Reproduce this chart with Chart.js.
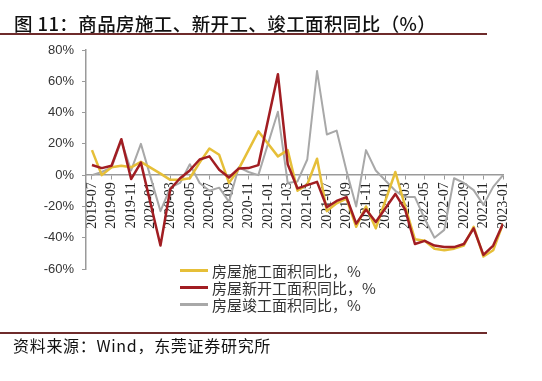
<!DOCTYPE html>
<html>
<head>
<meta charset="utf-8">
<script src="https://cdn.jsdelivr.net/npm/chart.js@4.4.1/dist/chart.umd.min.js"></script>
<style>
  body { margin: 0; background: #fff; width: 542px; height: 381px; overflow: hidden; position: relative;
         font-family: 'Noto Sans CJK SC', sans-serif; }
  #cchart { position: absolute; left: 0; top: 0; }
  .title { position: absolute; left: 14px; top: 13px; font-size: 18.5px; line-height: 20px; color: #111; font-weight: 500; letter-spacing: 0.4px; white-space: nowrap; }
  .rule { position: absolute; left: 0; width: 487px; height: 1.5px; background: #6e2b2b; }
  .source { position: absolute; left: 13px; top: 336px; font-size: 16px; line-height: 18px; color: #111; letter-spacing: 0.7px; white-space: nowrap; }
  #legend { position: absolute; left: 180px; top: 262px; font-size: 15px; color: #333; }
  #legend div { height: 17px; line-height: 17px; display: flex; align-items: center; white-space: nowrap; }
  #legend span.sw { display: inline-block; width: 28px; height: 2.5px; margin-right: 4px; }
</style>
</head>
<body>
<canvas id="cchart" width="542" height="381"></canvas>
<div class="title">图 11：商品房施工、新开工、竣工面积同比（%）</div>
<div class="rule" style="top:33px"></div>
<div id="legend"></div>
<div class="rule" style="top:332px"></div>
<div class="source">资料来源：Wind，东莞证券研究所</div>
<script>
// monthly, 2019-07 .. 2023-01 (January is reported together with February -> null)
const months = [
  '2019-07', '2019-08', '2019-09', '2019-10', '2019-11', '2019-12',
  '2020-01', '2020-02', '2020-03', '2020-04', '2020-05', '2020-06',
  '2020-07', '2020-08', '2020-09', '2020-10', '2020-11', '2020-12',
  '2021-01', '2021-02', '2021-03', '2021-04', '2021-05', '2021-06',
  '2021-07', '2021-08', '2021-09', '2021-10', '2021-11', '2021-12',
  '2022-01', '2022-02', '2022-03', '2022-04', '2022-05', '2022-06',
  '2022-07', '2022-08', '2022-09', '2022-10', '2022-11', '2022-12',
  '2023-01',
];
const underConstruction = [
  16, 0, 5, 6, 5, 8.5,
  null, 1, -3, -3, -2, 8,
  17, 13, -5, 4, 16, 28,
  null, 12, 16, -10, -6, 10.5,
  -23, -18, -15, -33, -20, -34,
  null, 2, -20, -41, -42, -47,
  -48, -47, -45, -33, -52, -48,
  -31,
];
const newStarts = [
  6.5, 4.5, 6, 23, -2.5, 8,
  null, -45, -9, -2, 3, 10,
  12, 3.5, -1.5, 4.3, 4.5, 6.4,
  null, 64.5, 7, -8.5, -6.4, -4.3,
  -20.5, -16.5, -14, -31, -22, -30,
  null, -12, -22, -44, -42, -45,
  -46, -46, -44, -34, -51, -45,
  -31,
];
const completed = [
  0, 2, 5, 22, 3, 20,
  null, -23, -8, -5, 7, -5,
  -10, -8, -17, 5, 2, 0,
  null, 40.5, -5, -4, 10, 66.5,
  26, 28.5, 3, -20, 16, 3,
  null, -10, -14, -14, -28, -40,
  -35, -2, -5, -9.6, -19, -7.5,
  0,
];
const seriesNames = ['房屋施工面积同比，%', '房屋新开工面积同比，%', '房屋竣工面积同比，%'];
const seriesColors = ['#e6bf38', '#a11d22', '#a8a8a8'];
const yTicks = [-60, -40, -20, 0, 20, 40, 60, 80];

const toPoints = (arr) => arr.map((v, i) => ({ x: i, y: v }));

// legend
const legend = document.getElementById('legend');
seriesNames.forEach((name, i) => {
  const row = document.createElement('div');
  const sw = document.createElement('span');
  sw.className = 'sw';
  sw.style.background = seriesColors[i];
  row.appendChild(sw);
  row.appendChild(document.createTextNode(name));
  legend.appendChild(row);
});

let chart = null;
let drawChart = () => {
  const ctx = document.getElementById('cchart');
  if (chart) chart.destroy();

  chart = new Chart(ctx, {
    type: 'line',
    data: {
      datasets: [
        { label: seriesNames[0], data: toPoints(underConstruction), borderColor: seriesColors[0], borderWidth: 2.5, order: 1 },
        { label: seriesNames[1], data: toPoints(newStarts), borderColor: seriesColors[1], borderWidth: 2.5, order: 0 },
        { label: seriesNames[2], data: toPoints(completed), borderColor: seriesColors[2], borderWidth: 2, order: 2 },
      ],
    },
    options: {
      responsive: false,
      animation: false,
      spanGaps: true,
      elements: {
        point: { radius: 0 },
        line: { tension: 0, fill: false, borderJoinStyle: 'round' },
      },
      layout: { padding: { left: 0, top: 50, right: 39, bottom: 112 } },
      plugins: { legend: { display: false }, tooltip: { enabled: false } },
      scales: {
        x: {
          type: 'linear',
          position: { y: 0 },
          min: -0.61,
          max: months.length - 1,
          afterBuildTicks: (scale) => {
            scale.ticks = months.map((m, i) => ({ value: i })).filter((t) => t.value % 2 === 0);
          },
          ticks: {
            autoSkip: false,
            minRotation: 90,
            maxRotation: 90,
            padding: 3,
            color: '#222',
            font: { family: "'Liberation Serif', 'Times New Roman', serif", size: 14 },
            callback: (v) => months[v],
          },
          grid: { drawOnChartArea: false, drawTicks: true, tickLength: 4, color: '#9a9a9a', lineWidth: 1 },
          border: { display: true, color: '#9a9a9a', width: 1.5 },
        },
        y: {
          min: -60,
          max: 80,
          afterBuildTicks: (scale) => {
            scale.ticks = yTicks.map((v) => ({ value: v }));
          },
          afterFit: (scale) => {
            scale.width = 86;
          },
          ticks: {
            padding: 8,
            color: '#333',
            font: { family: "'Liberation Sans', Arial, sans-serif", size: 13 },
            callback: (v) => v + '%',
          },
          grid: { drawOnChartArea: false, drawTicks: true, tickLength: 4, color: '#9a9a9a' },
          border: { display: true, color: '#9a9a9a', width: 1.5 },
        },
      },
    },
  });
};

drawChart();
</script>
</body>
</html>
